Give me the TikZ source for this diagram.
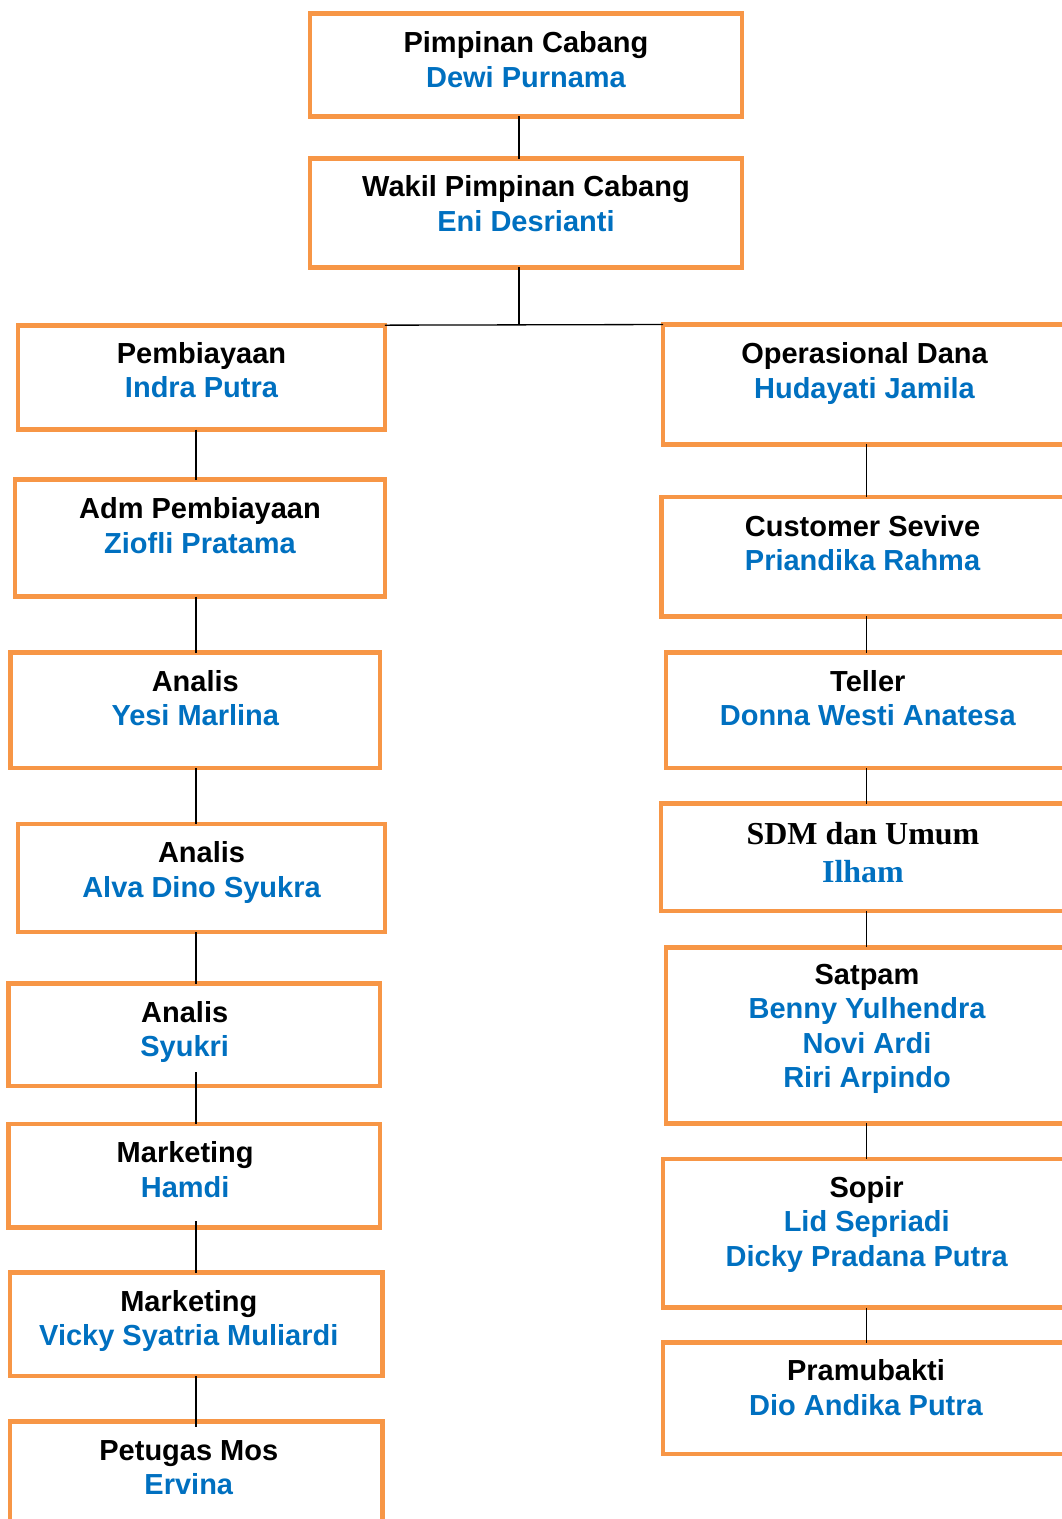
\documentclass[tikz,border=0pt]{standalone}
\usepackage{fontspec}
\setmainfont{Liberation Sans}
\newfontfamily\timesfont{Liberation Serif}
\definecolor{boxorange}{HTML}{F79646}
\definecolor{nameblue}{HTML}{0070C0}

\begin{document}
\begin{tikzpicture}[
        x=0.02cm, y=-0.02cm,
        every node/.style={font=\fontsize{16.5}{19.5}\selectfont\bfseries},
        box/.style={draw=boxorange, line width=2.7pt, inner sep=0pt, outer sep=0pt},
        lbl/.style={anchor=base, align=center, inner sep=0pt},
        serif/.style={font=\timesfont\fontsize{18.2}{21.6}\selectfont\bfseries},
        link/.style={line width=0.75pt, black}
    ]
        \path[use as bounding box] (0,0) rectangle (1062,1519);
        \clip (0,0) rectangle (1062,1519);

        % Top: branch head and deputy
        \node[box, minimum width=8.64cm, minimum height=2.06cm] (pimp) at (526,65) {};
        \node[box, minimum width=8.64cm, minimum height=2.18cm] (wakil) at (526,213) {};

        % Left column: financing
        \node[box, minimum width=7.34cm, minimum height=2.09cm] (pemb) at (201.5,377.4) {};
        \node[box, minimum width=7.40cm, minimum height=2.34cm] (adm) at (200,538) {};
        \node[box, minimum width=7.39cm, minimum height=2.31cm] (ana1) at (195.3,710.3) {};
        \node[box, minimum width=7.34cm, minimum height=2.16cm] (ana2) at (201.5,878) {};
        \node[box, minimum width=7.43cm, minimum height=2.05cm] (ana3) at (194.2,1034.8) {};
        \node[box, minimum width=7.43cm, minimum height=2.07cm] (mkt1) at (194.2,1175.8) {};
        \node[box, minimum width=7.45cm, minimum height=2.07cm] (mkt2) at (196.3,1324.3) {};
        \node[box, minimum width=7.45cm, minimum height=2.37cm] (mos) at (196.3,1480.8) {};

        % Right column: operations (right edges run off the page)
        \node[box, minimum width=8.06cm, minimum height=2.40cm] (opdana) at (864.5,384.5) {};
        \node[box, minimum width=8.21cm, minimum height=2.39cm] (cust) at (866.8,556.7) {};
        \node[box, minimum width=8.07cm, minimum height=2.31cm] (teller) at (867.8,710.3) {};
        \node[box, minimum width=8.22cm, minimum height=2.15cm] (sdm) at (866.5,857.3) {};
        \node[box, minimum width=8.04cm, minimum height=3.52cm] (satpam) at (867,1035.4) {};
        \node[box, minimum width=8.15cm, minimum height=2.97cm] (sopir) at (866.7,1233.3) {};
        \node[box, minimum width=8.12cm, minimum height=2.23cm] (pram) at (866,1398.3) {};

        % Labels: position, then name(s) -- base sits on the last line
        \node[lbl] (pimpT) at ([yshift=-1.47cm]pimp.north) {Pimpinan Cabang\\\textcolor{nameblue}{Dewi Purnama}};
        \node[lbl] (wakilT) at ([yshift=-1.45cm]wakil.north) {Wakil Pimpinan Cabang\\\textcolor{nameblue}{Eni Desrianti}};
        \node[lbl] (pembT) at ([yshift=-1.45cm]pemb.north) {Pembiayaan\\\textcolor{nameblue}{Indra Putra}};
        \node[lbl] (admT) at ([yshift=-1.47cm]adm.north) {Adm Pembiayaan\\\textcolor{nameblue}{Ziofli Pratama}};
        \node[lbl] (ana1T) at ([yshift=-1.46cm]ana1.north) {Analis\\\textcolor{nameblue}{Yesi Marlina}};
        \node[lbl] (ana2T) at ([yshift=-1.46cm]ana2.north) {Analis\\\textcolor{nameblue}{Alva Dino Syukra}};
        \node[lbl] (ana3T) at ([xshift=-0.19cm, yshift=-1.46cm]ana3.north) {Analis\\\textcolor{nameblue}{Syukri}};
        \node[lbl] (mkt1T) at ([xshift=-0.18cm, yshift=-1.46cm]mkt1.north) {Marketing\\\textcolor{nameblue}{Hamdi}};
        \node[lbl] (mkt2T) at ([xshift=-0.15cm, yshift=-1.46cm]mkt2.north) {Marketing\\\textcolor{nameblue}{Vicky Syatria Muliardi}};
        \node[lbl] (mosT) at ([xshift=-0.15cm, yshift=-1.46cm]mos.north) {Petugas Mos\\\textcolor{nameblue}{Ervina}};

        \node[lbl] (opdanaT) at ([yshift=-1.47cm]opdana.north) {Operasional Dana\\\textcolor{nameblue}{Hudayati Jamila}};
        \node[lbl] (custT) at ([xshift=-0.085cm, yshift=-1.47cm]cust.north) {Customer Sevive\\\textcolor{nameblue}{Priandika Rahma}};
        \node[lbl] (tellerT) at ([yshift=-1.46cm]teller.north) {Teller\\\textcolor{nameblue}{Donna Westi Anatesa}};
        \node[lbl, serif] (sdmT) at ([xshift=-0.07cm, yshift=-1.58cm]sdm.north) {SDM dan Umum\\\textcolor{nameblue}{Ilham}};
        \node[lbl] (satpamT) at ([yshift=-2.80cm]satpam.north) {Satpam\\\textcolor{nameblue}{Benny Yulhendra}\\\textcolor{nameblue}{Novi Ardi}\\\textcolor{nameblue}{Riri Arpindo}};
        \node[lbl] (sopirT) at ([yshift=-2.14cm]sopir.north) {Sopir\\\textcolor{nameblue}{Lid Sepriadi}\\\textcolor{nameblue}{Dicky Pradana Putra}};
        \node[lbl] (pramT) at ([yshift=-1.45cm]pram.north) {Pramubakti\\\textcolor{nameblue}{Dio Andika Putra}};

        % Spines the connectors run along
        \coordinate (spineT) at (519,324.5);
        \coordinate (spineL) at (196,0);
        \coordinate (spineR) at (866.3,0);

        % Top connectors and the split
        \draw[link] (pimp.south -| spineT) -- (wakil.north -| spineT);
        \draw[link] (wakil.south -| spineT) -- (spineT);
        \draw[link] (pemb.north east) -- (opdana.north west);

        % Left column connectors
        \draw[link] (pemb.south -| spineL) -- (adm.north -| spineL);
        \draw[link] (adm.south -| spineL) -- (ana1.north -| spineL);
        \draw[link] (ana1.south -| spineL) -- (ana2.north -| spineL);
        \draw[link] (ana2.south -| spineL) -- (ana3.north -| spineL);
        \draw[link] ([yshift=0.28cm]ana3.south -| spineL) -- (mkt1.north -| spineL);
        \draw[link] ([yshift=0.13cm]mkt1.south -| spineL) -- (mkt2.north -| spineL);
        \draw[link] (mkt2.south -| spineL) -- ([yshift=-0.1cm]mos.north -| spineL);

        % Right column connectors
        \draw[link] (opdana.south -| spineR) -- (cust.north -| spineR);
        \draw[link] (cust.south -| spineR) -- (teller.north -| spineR);
        \draw[link] (teller.south -| spineR) -- (sdm.north -| spineR);
        \draw[link] (sdm.south -| spineR) -- (satpam.north -| spineR);
        \draw[link] (satpam.south -| spineR) -- (sopir.north -| spineR);
        \draw[link] (sopir.south -| spineR) -- (pram.north -| spineR);

    \end{tikzpicture}
\end{document}
